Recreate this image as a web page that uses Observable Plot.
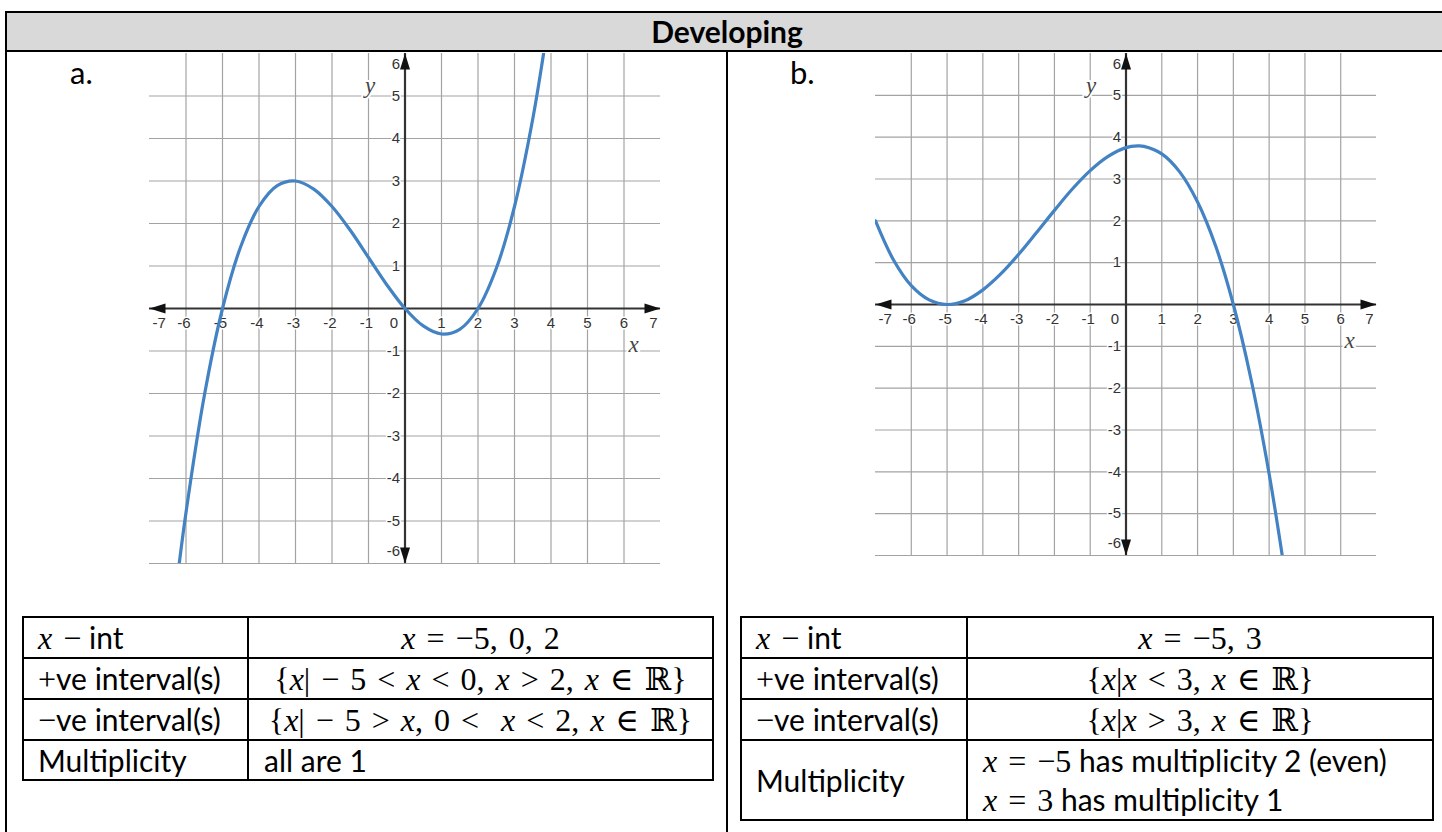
<!DOCTYPE html>
<html>
<head>
<meta charset="utf-8">
<script src="https://cdn.jsdelivr.net/npm/d3@7"></script>
<script src="https://cdn.jsdelivr.net/npm/@observablehq/plot@0.6"></script>
<style>
  body { margin: 0; background: #fff; }
  #page { position: relative; width: 1442px; height: 832px; overflow: hidden; background: #fff; font-family: Lato, "Open Sans", sans-serif; color: #000; }
  .line { position: absolute; background: #000; }
  #header { position: absolute; left: 7px; top: 13px; right: 0; height: 37px; background: #d9d9d9; }
  #title { position: absolute; left: 0; width: 1454px; top: 13px; height: 37px; line-height: 37px; text-align: center; font-weight: bold; font-size: 30px; }
  .part { position: absolute; font-size: 31px; line-height: 32px; }
  .graph { position: absolute; }
  table.info { position: absolute; border-collapse: collapse; table-layout: fixed; font-size: 30px; }
  table.info td { border: 2px solid #000; padding: 0 0 0 14px; white-space: nowrap; vertical-align: middle; line-height: 38px; }
  table.info td.val { text-align: center; padding: 0; }
  table.info td.val.left { text-align: left; padding-left: 15px; }
  .m { font-family: "Liberation Serif", "DejaVu Serif", serif; font-size: 32px; word-spacing: 3px; }
  .m i { font-style: italic; }
</style>
</head>
<body>
<div id="page">
  <div id="header"></div>
  <div id="title">Developing</div>
  <div class="line" style="left:5px; top:11px; right:0; height:2px"></div>
  <div class="line" style="left:5px; top:11px; bottom:0; width:2px"></div>
  <div class="line" style="left:5px; top:50px; right:0; height:2px"></div>
  <div class="line" style="left:726px; top:50px; bottom:0; width:2px"></div>
  <div class="part" style="left:70px; top:56px">a.</div>
  <div class="part" style="left:790px; top:56px">b.</div>
</div>
<script>
// Axis ticks shared by both coordinate grids
const xDomain = [-7, 7];
const yDomain = [-6, 6];
const xTickValues = [-7, -6, -5, -4, -3, -2, -1, 0, 1, 2, 3, 4, 5, 6, 7];
const yTickValues = [-6, -5, -4, -3, -2, -1, 0, 1, 2, 3, 4, 5, 6];
const xGridValues = [-6, -5, -4, -3, -2, -1, 0, 1, 2, 3, 4, 5, 6];
const yGridValues = [-6, -5, -4, -3, -2, -1, 0, 1, 2, 3, 4, 5];

// Graph a: cubic through x = -5, 0, 2
const curveAx = [-6.2, -6, -5.5, -5, -4.5, -4, -3.5, -3, -2.5, -2, -1.5, -1, -0.5, 0, 0.5, 1, 1.5, 2, 2.5, 3, 3.5, 3.82];
const curveAy = [-6.1, -4.8, -2.06, 0, 1.46, 2.4, 2.89, 3.0, 2.81, 2.4, 1.84, 1.2, 0.56, 0, -0.41, -0.6, -0.49, 0, 0.94, 2.4, 4.46, 6.13];

// Graph b: touches at x = -5, crosses at x = 3
const curveBx = [-7, -6.5, -6, -5.5, -5, -4.5, -4, -3.5, -3, -2.5, -2, -1.5, -1, -0.5, 0, 0.33, 0.5, 1, 1.5, 2, 2.5, 3, 3.5, 4, 4.4];
const curveBy = [2.0, 1.07, 0.45, 0.11, 0, 0.09, 0.35, 0.73, 1.2, 1.72, 2.25, 2.76, 3.2, 3.54, 3.75, 3.79, 3.78, 3.6, 3.17, 2.45, 1.41, 0, -1.81, -4.05, -6.19];

// Table contents
const rowLabels = [
  '<span class="m"><i>x</i> −</span> int',
  '<span class="m">+</span>ve interval(s)',
  '<span class="m">−</span>ve interval(s)',
  'Multiplicity'
];
const valuesA = [
  '<span class="m"><i>x</i> = −5, 0, 2</span>',
  '<span class="m">{<i>x</i>| − 5 &lt; <i>x</i> &lt; 0, <i>x</i> &gt; 2, <i>x</i> ∈ ℝ}</span>',
  '<span class="m">{<i>x</i>| − 5 &gt; <i>x</i>, 0 &lt;&nbsp; <i>x</i> &lt; 2, <i>x</i> ∈ ℝ}</span>',
  'all are 1'
];
const valuesB = [
  '<span class="m"><i>x</i> = −5, 3</span>',
  '<span class="m">{<i>x</i>|<i>x</i> &lt; 3, <i>x</i> ∈ ℝ}</span>',
  '<span class="m">{<i>x</i>|<i>x</i> &gt; 3, <i>x</i> ∈ ℝ}</span>',
  '<span class="m"><i>x</i> = −5</span> has multiplicity 2 (even)<br><span class="m"><i>x</i> = 3</span> has multiplicity 1'
];

const page = document.getElementById("page");
const pad = 24;

// Filled arrowhead, tip at the origin, pointing up before rotation
const arrowHead = {
  draw(context) {
    context.moveTo(0, 0);
    context.lineTo(5, 16);
    context.lineTo(-5, 16);
    context.closePath();
  }
};

function drawGraph({curveX, curveY, left, top, width, height}) {
  const curve = curveX.map((x, i) => ({x, y: curveY[i]}));
  const [x0, x1] = xDomain;
  const [y0, y1] = yDomain;
  const arrows = [
    {x: x1, y: 0, rot: 90}, {x: x0, y: 0, rot: -90},
    {x: 0, y: y1, rot: 0}, {x: 0, y: y0, rot: 180}
  ];
  const tickFont = {fontFamily: "Liberation Sans, Arial, sans-serif", fontSize: 15, fill: "#333", stroke: "white", strokeWidth: 3};
  const xNeg = xTickValues.filter(v => v < 0 && v > x0);
  const xPos = xTickValues.filter(v => v > 0 && v < x1);
  const yMid = yTickValues.filter(v => v !== 0 && v > y0 && v < y1);
  const label = d => String(d);
  const zero = () => 0;
  const axisFont = {fontFamily: "Liberation Serif, DejaVu Serif, serif", fontStyle: "italic", fontSize: 23, fill: "#444", stroke: "white", strokeWidth: 4};

  const svg = Plot.plot({
    width: width + 2 * pad,
    height: height + 2 * pad,
    margin: pad,
    x: {domain: xDomain, axis: null},
    y: {domain: yDomain, axis: null},
    style: {background: "none", overflow: "visible"},
    marks: [
      Plot.ruleX(xGridValues, {stroke: "#a3a3a3", strokeWidth: 1.2}),
      Plot.ruleY(yGridValues, {stroke: "#a3a3a3", strokeWidth: 1.2}),
      // x tick labels below the axis
      Plot.text(xNeg, {x: d => d, y: zero, text: label, dx: -2, dy: 15, ...tickFont}),
      Plot.text(xPos, {x: d => d, y: zero, text: label, dy: 15, ...tickFont}),
      Plot.text([x0], {x: d => d, y: zero, text: label, textAnchor: "start", dx: 3, dy: 15, ...tickFont}),
      Plot.text([x1], {x: d => d, y: zero, text: label, textAnchor: "end", dx: -3, dy: 15, ...tickFont}),
      Plot.text([0], {x: d => d, y: zero, text: label, dx: -11, dy: 15, ...tickFont}),
      // y tick labels left of the axis
      Plot.text(yMid, {x: zero, y: d => d, text: label, textAnchor: "end", dx: -5, ...tickFont}),
      Plot.text([y1], {x: zero, y: d => d, text: label, textAnchor: "end", dx: -5, dy: 11, ...tickFont}),
      Plot.text([y0], {x: zero, y: d => d, text: label, textAnchor: "end", dx: -5, dy: -12, ...tickFont}),
      // axis names
      Plot.text([x1], {x: d => d, y: zero, text: () => "x", dx: -27, dy: 36, ...axisFont}),
      Plot.text([y1], {x: zero, y: d => d, text: () => "y", dx: -35, dy: 32, ...axisFont}),
      // axes with arrowheads
      Plot.ruleY([0], {stroke: "#333", strokeWidth: 2.2}),
      Plot.ruleX([0], {stroke: "#333", strokeWidth: 2.2}),
      Plot.dot(arrows, {x: "x", y: "y", rotate: "rot", symbol: arrowHead, r: 5, fill: "#111", stroke: null}),
      // the function
      Plot.line(curve, {x: "x", y: "y", curve: "catmull-rom", stroke: "#4382c3", strokeWidth: 3.2, clip: true})
    ]
  });
  svg.classList.add("graph");
  svg.style.left = (left - pad) + "px";
  svg.style.top = (top - pad) + "px";
  page.appendChild(svg);
}

drawGraph({curveX: curveAx, curveY: curveAy, left: 149, top: 53, width: 511, height: 510});
drawGraph({curveX: curveBx, curveY: curveBy, left: 875, top: 53, width: 501, height: 502});

function drawTable(values, {left, top, width, labelWidth, rowHeights}) {
  const table = d3.select(page).append("table").attr("class", "info")
    .style("left", left + "px").style("top", top + "px").style("width", width + "px");
  const cols = table.append("colgroup");
  cols.append("col").style("width", labelWidth + "px");
  cols.append("col").style("width", (width - labelWidth) + "px");
  rowLabels.forEach((lab, i) => {
    const tr = table.append("tr").style("height", rowHeights[i] + "px");
    tr.append("td").html(lab);
    tr.append("td").attr("class", i < 3 ? "val" : "val left").html(values[i]);
  });
}

drawTable(valuesA, {left: 22, top: 616, width: 690, labelWidth: 225, rowHeights: [41, 40, 41, 40]});
drawTable(valuesB, {left: 740, top: 616, width: 692, labelWidth: 226, rowHeights: [41, 40, 41, 79]});
</script>
</body>
</html>
